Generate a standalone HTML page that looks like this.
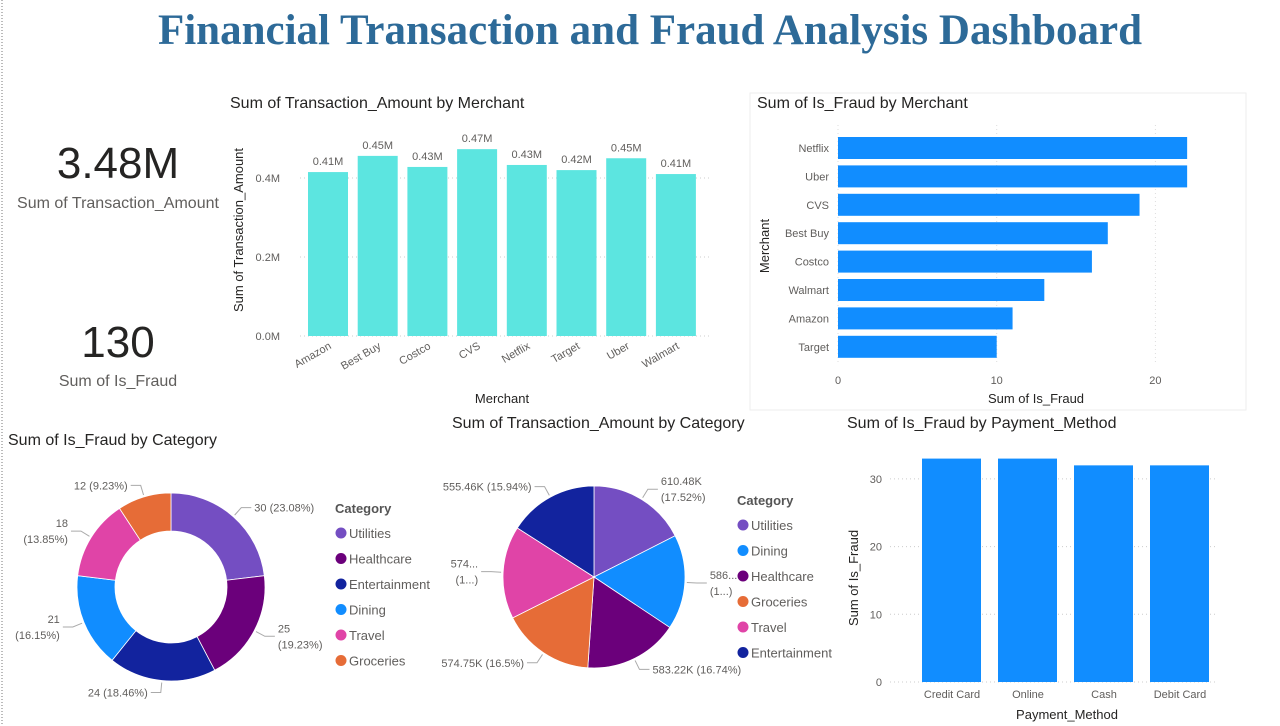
<!DOCTYPE html>
<html><head><meta charset="utf-8">
<style>
html,body{margin:0;padding:0;background:#fff;}
svg{display:block;font-family:"Liberation Sans",sans-serif;}
</style></head>
<body>
<svg id="root" width="1280" height="726" viewBox="0 0 1280 726" xmlns="http://www.w3.org/2000/svg">
<line x1="2" y1="0" x2="2" y2="726" stroke="#777" stroke-dasharray="1,2"/>
<text x="650" y="44" text-anchor="middle" font-family="Liberation Serif,serif" font-weight="bold" font-size="43" fill="#2d6a98">Financial Transaction and Fraud Analysis Dashboard</text>

<g>
<text x="118" y="178" text-anchor="middle" font-size="44" fill="#252423">3.48M</text>
<text x="118" y="208" text-anchor="middle" font-size="16" fill="#605e5c">Sum of Transaction_Amount</text>
</g>
<g>
<text x="118" y="357" text-anchor="middle" font-size="44" fill="#252423">130</text>
<text x="118" y="386" text-anchor="middle" font-size="16" fill="#605e5c">Sum of Is_Fraud</text>
</g>

<g id="c1">
<text x="230" y="108" font-size="16" fill="#252423">Sum of Transaction_Amount by Merchant</text>
<text transform="translate(243,230) rotate(-90)" text-anchor="middle" font-size="13" fill="#252423">Sum of Transaction_Amount</text>
<text x="502" y="403" text-anchor="middle" font-size="13" fill="#252423">Merchant</text>
</g>

<rect x="750" y="93" width="496" height="317" fill="none" stroke="#eee"/>
<g id="c2">
<text x="757" y="108" font-size="16" fill="#252423">Sum of Is_Fraud by Merchant</text>
<text transform="translate(769,246) rotate(-90)" text-anchor="middle" font-size="13" fill="#252423">Merchant</text>
<text x="1036" y="403" text-anchor="middle" font-size="13" fill="#252423">Sum of Is_Fraud</text>
</g>

<g id="c3">
<text x="8" y="445" font-size="16" fill="#252423">Sum of Is_Fraud by Category</text>
</g>
<g id="c4">
<text x="452" y="428" font-size="16" fill="#252423">Sum of Transaction_Amount by Category</text>
</g>
<g id="c5">
<text x="847" y="428" font-size="16" fill="#252423">Sum of Is_Fraud by Payment_Method</text>
<text transform="translate(858,578) rotate(-90)" text-anchor="middle" font-size="13" fill="#252423">Sum of Is_Fraud</text>
<text x="1067" y="719" text-anchor="middle" font-size="13" fill="#252423">Payment_Method</text>
</g>
</svg>
<script>
const merchants1 = ["Amazon","Best Buy","Costco","CVS","Netflix","Target","Uber","Walmart"];
const amountM = [0.415,0.456,0.428,0.473,0.433,0.42,0.45,0.41];
const amountLabels = ["0.41M","0.45M","0.43M","0.47M","0.43M","0.42M","0.45M","0.41M"];
const amountTicks = [0,0.2,0.4];
const amountTickLabels = ["0.0M","0.2M","0.4M"];

const merchants2 = ["Netflix","Uber","CVS","Best Buy","Costco","Walmart","Amazon","Target"];
const fraudByMerchant = [22,22,19,17,16,13,11,10];
const fraudTicks = [0,10,20];

const donutCats = ["Utilities","Healthcare","Entertainment","Dining","Travel","Groceries"];
const donutVals = [30,25,24,21,18,12];
const donutLabels = [["30 (23.08%)"],["25","(19.23%)"],["24 (18.46%)"],["21","(16.15%)"],["18","(13.85%)"],["12 (9.23%)"]];

const pieCats = ["Utilities","Dining","Healthcare","Groceries","Travel","Entertainment"];
const pieVals = [610.48,586.5,583.22,574.75,574.1,555.46];
const pieLabels = [["610.48K","(17.52%)"],["586...","(1...)"],["583.22K (16.74%)"],["574.75K (16.5%)"],["574...","(1...)"],["555.46K (15.94%)"]];

const payMethods = ["Credit Card","Online","Cash","Debit Card"];
const payVals = [33,33,32,32];
const payTicks = [0,10,20,30];

const catColors = {Utilities:"#744ec2",Healthcare:"#6b007b",Entertainment:"#12239e",Dining:"#118dff",Travel:"#e044a7",Groceries:"#e66c37"};

const NS="http://www.w3.org/2000/svg";
function mk(tag,attrs,parent,text){const e=document.createElementNS(NS,tag);for(const k in attrs)e.setAttribute(k,attrs[k]);if(text!==undefined)e.textContent=text;parent.appendChild(e);return e;}

(function(){
const g=document.getElementById('c1');
const y=v=>336-v*395;const x0=303,pitch=49.7,bw=40;
amountTicks.forEach((t,i)=>{
 const gl=mk('line',{x1:300,x2:712,y1:y(t),y2:y(t),stroke:'#ccc','stroke-dasharray':'1,3'},g);
 
 
 const tl=mk('text',{x:280,y:y(t)+4,'text-anchor':'end','font-size':11,fill:'#605e5c'},g,amountTickLabels[i]);
 
 
});
merchants1.forEach((m,i)=>{
 const bx=x0+5+i*pitch;
 const r=mk('rect',{x:bx,y:y(amountM[i]),width:bw,height:amountM[i]*395,fill:'#5ce5e0'},g);
 
 
 const l=mk('text',{x:bx+bw/2,y:y(amountM[i])-7,'text-anchor':'middle','font-size':11,fill:'#605e5c'},g,amountLabels[i]);
 
 
 const t=mk('text',{x:bx+bw/2+4,y:348,'text-anchor':'end','font-size':11,fill:'#605e5c',transform:`rotate(-30 ${bx+bw/2+4} 348)`},g,m);
 
 
});
})();

(function(){
const g=document.getElementById('c2');
const x=v=>838+v*15.87;
fraudTicks.forEach(t=>{
 const gl=mk('line',{x1:x(t),x2:x(t),y1:125,y2:365,stroke:'#ddd','stroke-dasharray':'1,3'},g);
 
 
 const tl=mk('text',{x:x(t),y:384,'text-anchor':'middle','font-size':11,fill:'#605e5c'},g,String(t));
 
 
});
merchants2.forEach((m,i)=>{
 const by=137+i*28.4;
 const r=mk('rect',{x:838,y:by,width:x(fraudByMerchant[i])-838,height:22,fill:'#118dff'},g);
 
 
 const t=mk('text',{x:829,y:by+15,'text-anchor':'end','font-size':11,fill:'#605e5c'},g,m);
 
 
});
})();

function arc(cx,cy,r,ri,a0,a1){
 const p=(rr,a)=>[cx+rr*Math.sin(a),cy-rr*Math.cos(a)];
 const lg=(a1-a0)>Math.PI?1:0;
 const [x0,y0]=p(r,a0),[x1,y1]=p(r,a1);
 if(ri<=0)return `M${cx},${cy}L${x0},${y0}A${r},${r} 0 ${lg} 1 ${x1},${y1}Z`;
 const [x2,y2]=p(ri,a1),[x3,y3]=p(ri,a0);
 return `M${x0},${y0}A${r},${r} 0 ${lg} 1 ${x1},${y1}L${x2},${y2}A${ri},${ri} 0 ${lg} 0 ${x3},${y3}Z`;
}
function drawPie(g,cats,vals,labels,cx,cy,r,ri,lx,ly){
 const tot=vals.reduce((a,b)=>a+b,0);let a=0;
 vals.forEach((v,i)=>{
  const a1=a+v/tot*2*Math.PI;
  const s=mk('path',{d:arc(cx,cy,r,ri,a,a1),fill:catColors[cats[i]],stroke:'#fff','stroke-width':0.8},g);
  
  
  const m=(a+a1)/2,sx=Math.sin(m),sy=-Math.cos(m);
  const p1=[cx+(r+2)*sx,cy+(r+2)*sy],p2=[cx+(r+12)*sx,cy+(r+12)*sy];
  const right=sx>=0;const p3=[p2[0]+(right?10:-10),p2[1]];
  const ln=mk('polyline',{points:`${p1} ${p2} ${p3}`,fill:'none',stroke:'#aaa'},g);
  
  
  const L=labels[i];
  L.forEach((s2,j)=>{
   const t=mk('text',{x:p3[0]+(right?3:-3),y:p3[1]+4+(j-(L.length-1)/2)*16,'text-anchor':right?'start':'end','font-size':11,fill:'#605e5c'},g,s2);
   
   
  });
  a=a1;
 });
 const lt=mk('text',{x:lx,y:ly,'font-size':13,'font-weight':'bold',fill:'#555'},g,'Category');
 
 
 cats.forEach((c,i)=>{
  const e=mk('g',{},g);
  
  
  mk('circle',{cx:lx+6,cy:ly+20+i*25.5,r:5.5,fill:catColors[c]},e);
  mk('text',{x:lx+14,y:ly+25+i*25.5,'font-size':13,fill:'#605e5c'},e,c);
 });
}
drawPie(document.getElementById('c3'),donutCats,donutVals,donutLabels,171,587,94,56,335,513);
drawPie(document.getElementById('c4'),pieCats,pieVals,pieLabels,594,577,91,0,737,505);

(function(){
const g=document.getElementById('c5');
const y=v=>682-v*6.77;
payTicks.forEach(t=>{
 const gl=mk('line',{x1:890,x2:1215,y1:y(t),y2:y(t),stroke:'#ccc','stroke-dasharray':'1,3'},g);
 
 
 const tl=mk('text',{x:882,y:y(t)+4,'text-anchor':'end','font-size':11,fill:'#605e5c'},g,String(t));
 
 
});
payMethods.forEach((m,i)=>{
 const bx=922+i*76;
 const r=mk('rect',{x:bx,y:y(payVals[i]),width:59,height:payVals[i]*6.77,fill:'#118dff'},g);
 
 
 const t=mk('text',{x:bx+30,y:698,'text-anchor':'middle','font-size':11,fill:'#605e5c'},g,m);
 
 
});
})();
</script>
</body></html>
